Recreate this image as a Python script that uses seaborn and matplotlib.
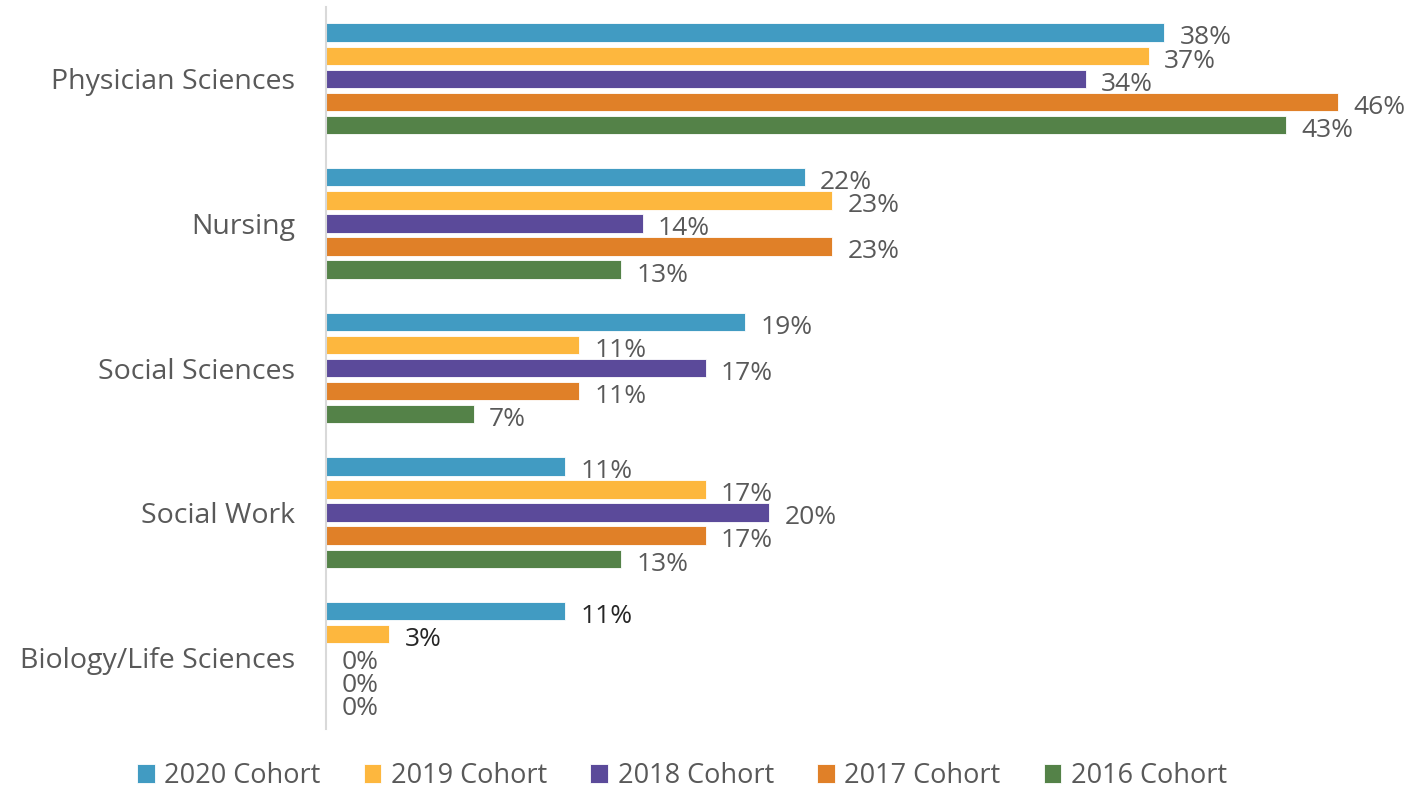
import matplotlib
matplotlib.use("Agg")
import matplotlib.pyplot as plt
import seaborn as sns
import pandas as pd

categories = ["Physician Sciences", "Nursing", "Social Sciences", "Social Work", "Biology/Life Sciences"]
cohorts = ["2020 Cohort", "2019 Cohort", "2018 Cohort", "2017 Cohort", "2016 Cohort"]
v2020 = [37.84, 21.62, 18.92, 10.81, 10.81]
v2019 = [37.14, 22.86, 11.43, 17.14, 2.86]
v2018 = [34.29, 14.29, 17.14, 20.00, 0.0]
v2017 = [45.71, 22.86, 11.43, 17.14, 0.0]
v2016 = [43.33, 13.33, 6.67, 13.33, 0.0]
colors = ["#419BC2", "#FDB73E", "#5B4A9A", "#E08028", "#548248"]

series = [v2020, v2019, v2018, v2017, v2016]
rows = []
for coh, vals in zip(cohorts, series):
    for cat, v in zip(categories, vals):
        rows.append({"category": cat, "cohort": coh, "value": v})
df = pd.DataFrame(rows)

sns.set_theme(style="white")
plt.rcParams["font.family"] = ["Open Sans", "DejaVu Sans"]

fig = plt.figure(figsize=(14.12, 7.91), dpi=100)
ax = fig.add_axes([326 / 1412, 1 - 729.3 / 791, (1400 - 326) / 1412, (729.3 - 6.7) / 791])

sns.barplot(data=df, y="category", x="value", hue="cohort", orient="h",
            order=categories, hue_order=cohorts, palette=colors, saturation=1,
            width=0.8, gap=0.2, ax=ax, legend=True,
            edgecolor="white", linewidth=0.6)

grey = "#595959"
for i, cont in enumerate(ax.containers):
    vals = series[i]
    labels = [f"{v:.0f}%" for v in vals]
    texts = ax.bar_label(cont, labels=labels, padding=11, fontsize=19, color=grey)
    for t in texts:
        t.xyann = (11, -3.8)
    if i in (0, 1):
        texts[4].set_color("#262626")

ax.set_xlim(0, (1400 - 326) / 22.15)
ax.set_ylim(4.5, -0.5)
ax.set_xlabel("")
ax.set_ylabel("")
ax.set_xticks([])
ax.tick_params(axis="y", length=0, pad=22, labelsize=20.5, labelcolor=grey)
for s in ["top", "right", "bottom"]:
    ax.spines[s].set_visible(False)
ax.spines["left"].set_color("#D9D9D9")
ax.spines["left"].set_linewidth(1.5)

handles, labels = ax.get_legend_handles_labels()
ax.get_legend().remove()
fig.legend(handles, labels, loc="center", bbox_to_anchor=(682 / 1412, 1 - 776 / 791),
           ncol=5, frameon=False, fontsize=19.5, handlelength=0.65, handleheight=0.65,
           handletextpad=0.35, columnspacing=1.6, labelcolor=grey,
           borderpad=0, borderaxespad=0)

fig.savefig("out.png", dpi=100)
